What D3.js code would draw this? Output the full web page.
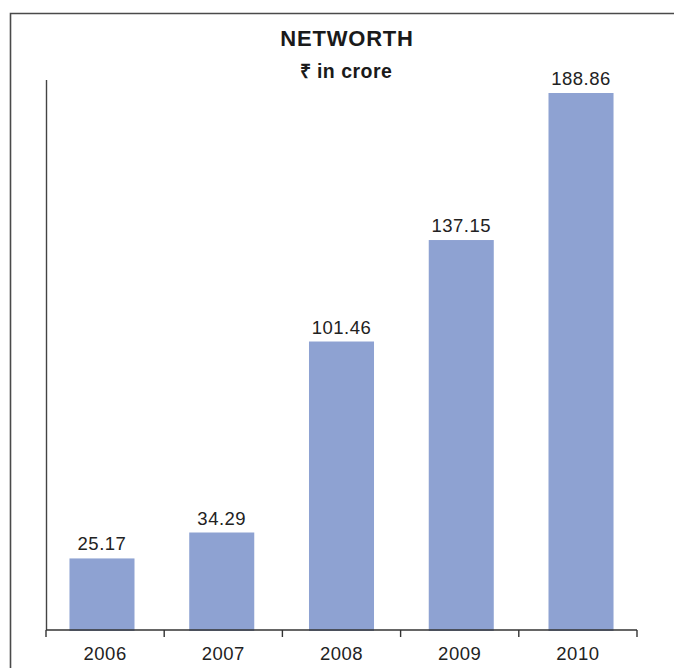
<!DOCTYPE html>
<html>
<head>
<meta charset="utf-8">
<script src="https://cdn.jsdelivr.net/npm/d3@7"></script>
<style>
  body { margin: 0; background: #fff; }
  svg { display: block; font-family: "Liberation Sans", Arial, sans-serif; }
</style>
</head>
<body>
<div id="chart"></div>
<script>
const years = ['2006', '2007', '2008', '2009', '2010'];
const networth = [25.17, 34.29, 101.46, 137.15, 188.86];

const w = 674, h = 668;
const m = { t: 93, r: 37, b: 38, l: 46 };

const svg = d3.select('#chart').append('svg')
  .attr('width', w).attr('height', h);

// frame (top + left edge visible)
svg.append('path')
  .attr('d', `M10.5,${h} V13.5 H${w}`)
  .attr('fill', 'none').attr('stroke', '#4a4a4a').attr('stroke-width', 1.6);

// category slots (ticks, labels)
const xCat = d3.scaleBand()
  .domain(years)
  .range([m.l, w - m.r]);

// bars
const x = d3.scaleBand()
  .domain(years)
  .range([m.l, w - m.r])
  .paddingInner(0.457).paddingOuter(0.196);

const y = d3.scaleLinear()
  .domain([0, d3.max(networth)])
  .range([h - m.b, m.t]);

const data = years.map((yr, i) => ({ yr, v: networth[i] }));

svg.selectAll('rect.bar')
  .data(data)
  .join('rect')
  .attr('class', 'bar')
  .attr('x', d => x(d.yr))
  .attr('y', d => y(d.v))
  .attr('width', x.bandwidth())
  .attr('height', d => y(0) - y(d.v) + 1)
  .attr('fill', '#8ea2d2');

svg.selectAll('text.val')
  .data(data)
  .join('text')
  .attr('class', 'val')
  .attr('x', d => x(d.yr) + x.bandwidth() / 2)
  .attr('y', d => y(d.v) - 8)
  .attr('text-anchor', 'middle')
  .attr('fill', '#222')
  .style('font-size', '18.5px')
  .style('letter-spacing', '0.5px')
  .text(d => d.v.toFixed(2));

// y axis line only
svg.append('line')
  .attr('x1', m.l + 0.5).attr('x2', m.l + 0.5)
  .attr('y1', 80).attr('y2', y(0))
  .attr('stroke', '#444').attr('stroke-width', 1.4);

// x axis with ticks between categories
const xAxis = svg.append('g')
  .attr('transform', `translate(0,${y(0)})`);
xAxis.append('line')
  .attr('x1', m.l).attr('x2', w - m.r)
  .attr('stroke', '#333').attr('stroke-width', 1.4);
xAxis.selectAll('line.tick')
  .data(years.map(d => xCat(d)).concat([w - m.r]))
  .join('line')
  .attr('class', 'tick')
  .attr('x1', d => d).attr('x2', d => d)
  .attr('y1', 0).attr('y2', 7)
  .attr('stroke', '#333').attr('stroke-width', 1.4);
xAxis.selectAll('text')
  .data(years)
  .join('text')
  .attr('x', d => xCat(d) + xCat.bandwidth() / 2)
  .attr('y', 30)
  .attr('text-anchor', 'middle')
  .attr('fill', '#222')
  .style('font-size', '18.5px')
  .style('letter-spacing', '0.5px')
  .text(d => d);

svg.append('text')
  .attr('x', 347).attr('y', 46)
  .attr('text-anchor', 'middle')
  .style('font-weight', 'bold').style('font-size', '22px')
  .style('letter-spacing', '0.8px')
  .attr('fill', '#1a1a1a')
  .text('NETWORTH');

svg.append('text')
  .attr('x', 346).attr('y', 78)
  .attr('text-anchor', 'middle')
  .style('font-weight', 'bold').style('font-size', '19.5px')
  .style('letter-spacing', '0.5px')
  .attr('fill', '#1a1a1a')
  .text('₹ in crore');
</script>
</body>
</html>
